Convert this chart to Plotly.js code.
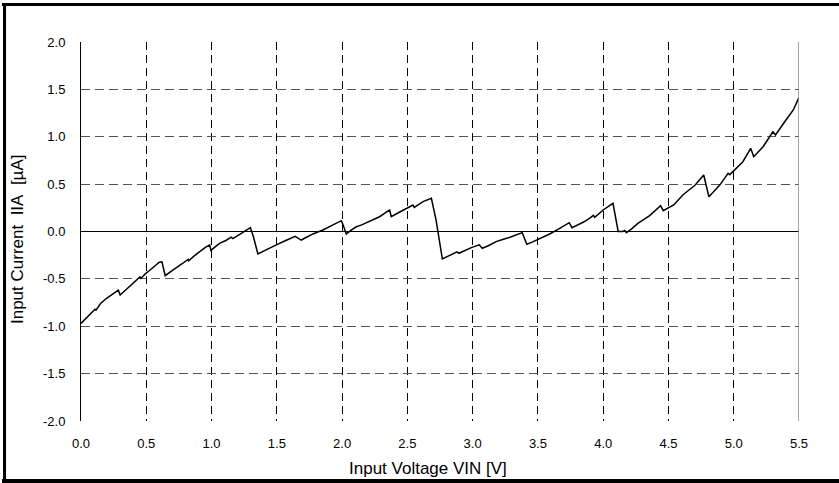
<!DOCTYPE html>
<html>
<head>
<meta charset="utf-8">
<script src="https://cdn.plot.ly/plotly-3.0.1.min.js"></script>
<style>html,body{margin:0;padding:0;background:#fff;}#chart{width:839px;height:483px;}</style>
</head>
<body>
<div id="chart"></div>
<script>
// Input voltage VIN [V]
const vin = [0.000,0.044,0.080,0.107,0.115,0.150,0.196,0.250,0.286,0.300,0.340,0.375,0.420,0.452,0.460,0.490,0.529,0.570,0.600,0.620,0.630,0.645,0.690,0.730,0.780,0.820,0.825,0.870,0.908,0.950,0.985,0.995,1.030,1.061,1.110,1.150,1.163,1.200,1.228,1.297,1.320,1.355,1.420,1.496,1.560,1.623,1.640,1.687,1.730,1.776,1.853,1.930,1.994,2.010,2.032,2.070,2.109,2.150,2.198,2.240,2.287,2.364,2.377,2.420,2.466,2.510,2.543,2.553,2.620,2.684,2.720,2.768,2.850,2.880,2.895,2.940,2.990,3.050,3.074,3.120,3.180,3.230,3.287,3.380,3.415,3.460,3.504,3.550,3.590,3.667,3.740,3.761,3.800,3.850,3.900,3.925,3.935,4.000,4.075,4.115,4.150,4.165,4.178,4.220,4.266,4.356,4.440,4.460,4.540,4.610,4.705,4.770,4.810,4.893,4.957,4.970,5.070,5.130,5.153,5.225,5.300,5.320,5.400,5.455,5.500];
// Input current IIA [uA]
const iia = [-0.970,-0.905,-0.860,-0.820,-0.830,-0.760,-0.705,-0.650,-0.620,-0.670,-0.620,-0.575,-0.520,-0.480,-0.495,-0.450,-0.406,-0.360,-0.325,-0.320,-0.370,-0.466,-0.420,-0.378,-0.335,-0.294,-0.310,-0.255,-0.213,-0.170,-0.142,-0.200,-0.160,-0.125,-0.095,-0.060,-0.075,-0.040,-0.020,0.040,-0.050,-0.237,-0.190,-0.142,-0.100,-0.055,-0.050,-0.090,-0.055,-0.026,0.016,0.069,0.114,0.060,-0.026,0.015,0.050,0.070,0.100,0.125,0.156,0.227,0.156,0.190,0.227,0.260,0.280,0.255,0.315,0.350,0.120,-0.290,-0.237,-0.215,-0.230,-0.200,-0.170,-0.140,-0.177,-0.150,-0.107,-0.085,-0.061,-0.012,-0.135,-0.110,-0.083,-0.055,-0.026,0.034,0.093,0.040,0.065,0.100,0.145,0.170,0.150,0.227,0.298,0.000,0.000,0.010,-0.012,0.030,0.086,0.167,0.272,0.220,0.280,0.385,0.490,0.596,0.367,0.490,0.614,0.600,0.737,0.878,0.790,0.895,1.053,1.018,1.177,1.280,1.416];

const xTicks = [0,0.5,1,1.5,2,2.5,3,3.5,4,4.5,5,5.5];
const xTickText = ["0.0","0.5","1.0","1.5","2.0","2.5","3.0","3.5","4.0","4.5","5.0","5.5"];
const yTicks = [-2,-1.5,-1,-0.5,0,0.5,1,1.5,2];
const yTickText = ["-2.0","-1.5","-1.0","-0.5","0.0","0.5","1.0","1.5","2.0"];
const xTitle = 'Input Voltage VIN [V]';
const yTitle = 'Input Current\u00a0\u00a0IIA\u00a0\u00a0[µA]';

const font = {family: 'Arial, "Liberation Sans", sans-serif', color: '#000'};

const trace = {
  x: vin, y: iia, type: 'scatter', mode: 'lines',
  line: {color: '#000', width: 1.5}, hoverinfo: 'skip'
};

const layout = {
  width: 839, height: 483,
  margin: {l: 81, r: 40, t: 42, b: 62, pad: 0},
  paper_bgcolor: '#fff', plot_bgcolor: '#fff',
  showlegend: false,
  font: Object.assign({size: 13}, font),
  xaxis: {
    range: [0, 5.5], tickvals: xTicks, ticktext: xTickText,
    showgrid: true, gridcolor: '#000', griddash: '8px,5px', gridwidth: 1,
    zeroline: false, showline: false, ticks: '', ticklabelstandoff: 13,
    tickfont: Object.assign({size: 13}, font)
  },
  yaxis: {
    range: [-2, 2], tickvals: yTicks, ticktext: yTickText,
    showgrid: true, gridcolor: '#555', griddash: '9px,5px', gridwidth: 1,
    zeroline: true, zerolinecolor: '#000', zerolinewidth: 1,
    showline: true, linecolor: '#000', linewidth: 1,
    ticks: '', ticklabelstandoff: 12,
    tickfont: Object.assign({size: 13}, font)
  },
  annotations: [
    {text: xTitle, xref: 'paper', yref: 'paper', x: 0.4826, y: -0.1266, xanchor: 'center', yanchor: 'middle', showarrow: false, font: Object.assign({size: 17}, font)},
    {text: yTitle, xref: 'paper', yref: 'paper', x: -0.0877, y: 0.4776, xanchor: 'center', yanchor: 'middle', textangle: -90, showarrow: false, font: Object.assign({size: 17}, font)}
  ],
  shapes: [
    {type: 'line', xref: 'x', yref: 'paper', x0: 5.5, x1: 5.5, y0: 0, y1: 1, line: {color: '#888', width: 1.5}},
    {type: 'line', xref: 'paper', yref: 'paper', x0: -0.1065, x1: -0.1065, y0: 1.1, y1: -0.2, line: {color: '#000', width: 3}},
    {type: 'line', xref: 'paper', yref: 'paper', x0: -0.11, x1: 1.2, y0: 1.0989, y1: 1.0989, line: {color: '#000', width: 3}},
    {type: 'line', xref: 'paper', yref: 'paper', x0: -0.11, x1: 1.2, y0: -0.1583, y1: -0.1583, line: {color: '#000', width: 4}}
  ]
};

Plotly.newPlot('chart', [trace], layout, {staticPlot: true, displayModeBar: false});
</script>
</body>
</html>
